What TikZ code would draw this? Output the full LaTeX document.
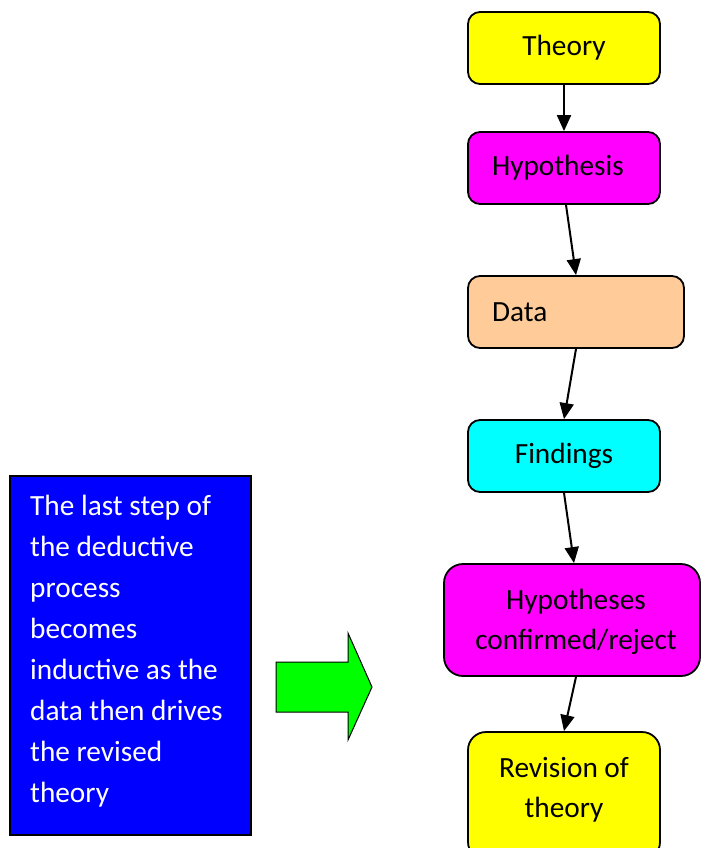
\documentclass[tikz,border=0pt]{standalone}
\usepackage{fontspec}
\setmainfont{Carlito}
\usetikzlibrary{arrows.meta}
\definecolor{peach}{RGB}{255,204,153}
\definecolor{pureblue}{RGB}{0,0,255}
\definecolor{puregreen}{RGB}{0,255,0}
\definecolor{puremagenta}{RGB}{255,0,255}
\definecolor{pureyellow}{RGB}{255,255,0}
\definecolor{purecyan}{RGB}{0,255,255}
\begin{document}
\begin{tikzpicture}[x=1pt,y=-1pt,
  stage/.style={draw=black, line width=1.8pt, rounded corners=12pt,
    minimum width=192pt, minimum height=72pt, inner sep=0pt,
    font=\fontsize{29.3}{40}\selectfont, align=center},
  leftstage/.style={stage, text width=144pt, inner xsep=24pt, align=left},
  link/.style={line width=2pt, -{Triangle[length=16pt,width=14pt]}},
  label/.style={font=\fontsize{29.3}{40}\selectfont, align=center, inner sep=0pt}]
\clip (0,0) rectangle (701,848);

% deductive chain
\node[stage, fill=pureyellow] (theory) at (564,48) {Theory};
\node[leftstage, fill=puremagenta] (hypo) at (564,168) {Hypothesis};
\node[leftstage, fill=peach, minimum width=216pt, text width=168pt] (data) at (576,312) {Data};
\node[stage, fill=purecyan] (find) at (564,456) {Findings};
\node[stage, fill=puremagenta, minimum width=256pt, minimum height=112pt,
      rounded corners=19pt] (conf) at (572,620) {};
\node[label] at (576,622) {Hypotheses\\confirmed/reject};
\node[stage, fill=pureyellow, minimum height=128pt, rounded corners=18pt] (rev) at (564,796) {};
\node[label] at (564,790) {Revision of\\theory};

\draw[link] (theory.south) -- (hypo.north);
\draw[link] ([xshift=2pt]hypo.south) -- (data.north);
\draw[link] (data.south) -- (find.north);
\draw[link] (find.south) -- ([xshift=2pt]conf.north);
\draw[link] ([xshift=4pt]conf.south) -- (rev.north);

% note box and block arrow
\node[draw=black, line width=1.8pt, fill=pureblue, minimum width=241pt,
      minimum height=359pt, anchor=north west, inner sep=0pt] (note) at (9,475) {};
\node[anchor=north west, inner sep=0pt, text=white, align=left,
      font=\fontsize{29.3}{41}\selectfont] (notetext) at (30,495)
  {The last step of\\the deductive\\process\\becomes\\inductive as the\\data then drives\\the revised\\theory};
\draw[fill=puregreen, draw=black, line width=1pt]
  (276,662) -- (348,662) -- (348,633) -- (372,687) -- (348,740) -- (348,712) -- (276,712) -- cycle;
\end{tikzpicture}
\end{document}
